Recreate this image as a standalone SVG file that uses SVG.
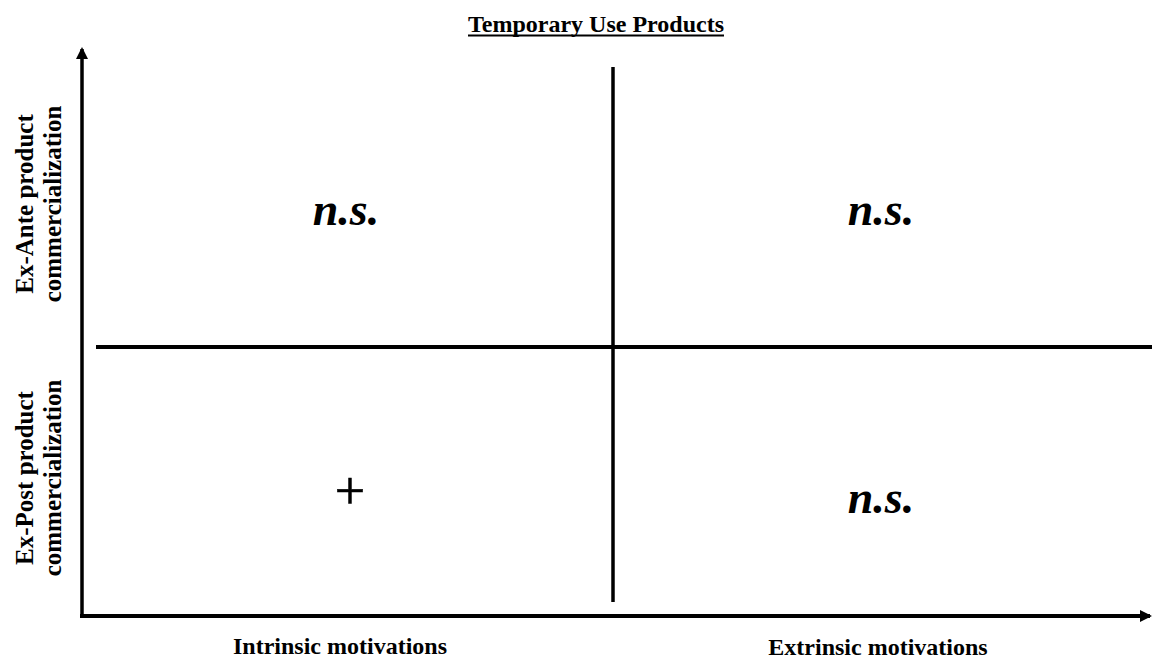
<svg xmlns="http://www.w3.org/2000/svg" width="1152" height="660" viewBox="0 0 1152 660">
<style>
.lbl{font-family:"Liberation Serif","Times New Roman",serif;font-weight:bold;font-size:24px;fill:#000;text-anchor:middle}
.ylbl{font-family:"Liberation Serif","Times New Roman",serif;font-weight:bold;font-size:25px;fill:#000;text-anchor:middle}
.ns{font-family:"Liberation Serif","Times New Roman",serif;font-weight:bold;font-style:italic;font-size:46px;fill:#000;text-anchor:middle}
.ln{stroke:#000;fill:none}
</style>
<defs>
<marker id="ah" markerWidth="12" markerHeight="12" refX="10" refY="6" orient="auto" markerUnits="userSpaceOnUse">
<path d="M0,0 L12,6 L0,12 Z" fill="#000"/>
</marker>
</defs>
<rect width="1152" height="660" fill="#fff"/>
<g id="title">
<text class="lbl" x="596" y="32" font-size="25">Temporary Use Products</text>
<line class="ln" x1="468" y1="35.5" x2="724" y2="35.5" stroke-width="2"/>
</g>
<g id="connectors">
<line class="ln" x1="82" y1="616" x2="82" y2="49" stroke-width="3.5" marker-end="url(#ah)"/>
<line class="ln" x1="80" y1="616" x2="1150" y2="616" stroke-width="4" marker-end="url(#ah)"/>
<line class="ln" x1="96" y1="347" x2="1152" y2="347" stroke-width="4"/>
<line class="ln" x1="613" y1="67" x2="613" y2="602" stroke-width="3.5"/>
</g>
<g id="y-ante">
<text class="ylbl" transform="translate(33,204) rotate(-90)">Ex-Ante product</text>
<text class="ylbl" transform="translate(61,204) rotate(-90)">commercialization</text>
</g>
<g id="y-post">
<text class="ylbl" transform="translate(33,478) rotate(-90)">Ex-Post product</text>
<text class="ylbl" transform="translate(61,478) rotate(-90)">commercialization</text>
</g>
<g id="q1"><text class="ns" x="346" y="225">n.s.</text></g>
<g id="q2"><text class="ns" x="881" y="225">n.s.</text></g>
<g id="q3"><text x="350" y="509" font-family="Liberation Serif, serif" font-size="54" text-anchor="middle" stroke="#000" stroke-width="0.6">+</text></g>
<g id="q4"><text class="ns" x="881" y="513">n.s.</text></g>
<g id="x-intr"><text class="lbl" x="340" y="654">Intrinsic motivations</text></g>
<g id="x-extr"><text class="lbl" x="878" y="655">Extrinsic motivations</text></g>
</svg>
